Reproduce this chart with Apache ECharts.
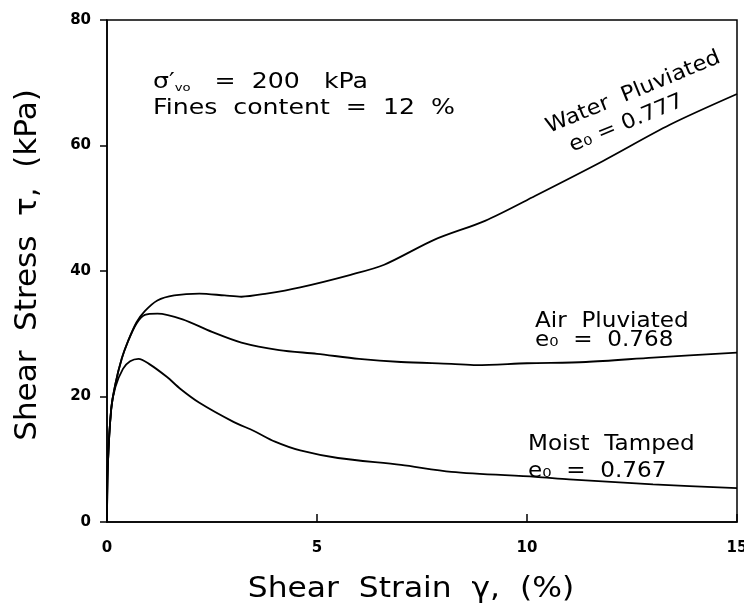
<!DOCTYPE html>
<html>
<head>
<meta charset="utf-8">
<script src="https://cdn.jsdelivr.net/npm/echarts@6/dist/echarts.min.js"></script>
<style>
  html, body { margin: 0; padding: 0; background: #fff; }
  #chart { width: 744px; height: 607px; }
</style>
</head>
<body>
<div id="chart"></div>
<script>
// shear strain (%) / shear stress (kPa)
const waterPluviated = [
  [0, 0], [0.02, 9], [0.1, 18], [0.2, 22], [0.35, 26], [0.5, 28.8], [0.7, 31.8],
  [0.9, 33.6], [1.2, 35.3], [1.6, 36.1], [2.2, 36.4], [2.8, 36.1], [3.2, 35.9],
  [3.8, 36.4], [4.6, 37.4], [5.8, 39.4], [6.6, 41], [7.8, 45], [9, 48],
  [10.2, 52], [11.8, 57.5], [13.4, 63.3], [15, 68.2]
]
const airPluviated = [
  [0, 0], [0.02, 9], [0.1, 18], [0.2, 22], [0.35, 26], [0.5, 28.8], [0.7, 31.6],
  [0.9, 33], [1.2, 33.2], [1.8, 32.3], [2.5, 30.3], [3.2, 28.6], [4.1, 27.4],
  [5, 26.8], [6, 26], [7, 25.5], [8.2, 25.2], [8.8, 25], [10, 25.3],
  [11.4, 25.5], [13, 26.2], [15, 27]
]
const moistTamped = [
  [0, 0], [0.02, 9], [0.1, 18], [0.2, 21.5], [0.38, 24.4], [0.55, 25.6],
  [0.75, 26], [1, 25.2], [1.43, 23.1], [1.75, 21.2], [2.2, 19], [3, 16],
  [3.5, 14.5], [4, 12.8], [4.6, 11.4], [5.5, 10.2], [7, 9.1], [8.2, 8],
  [10.2, 7.2], [11, 6.8], [13, 6], [15, 5.4]
]
const xTicks = [0, 5, 10, 15]
const yTicks = [0, 20, 40, 60, 80]

const font = 'DejaVu Sans'
const chart = echarts.init(document.getElementById('chart'))

const lineSeries = (name, data) => ({
  name: name,
  type: 'line',
  data: data,
  smooth: 0.3,
  showSymbol: false,
  lineStyle: { color: '#000', width: 1.8 },
  silent: true
})

// plain text block drawn on top of the chart
const label = (x, y, text, opts) => Object.assign({
  type: 'text', x: x, y: y,
  style: {
    text: text, fontFamily: font, fontSize: 21, fill: '#000',
    align: 'left', verticalAlign: 'top', lineHeight: (opts && opts.lh) || 24
  }
}, opts && opts.el)

const option = {
  backgroundColor: '#fff',
  animation: false,
  grid: {
    left: 107, right: 7, top: 20, bottom: 85,
    containLabel: false, outerBoundsMode: 'none',
    show: true, borderColor: '#000', borderWidth: 1.5
  },
  xAxis: {
    type: 'value',
    min: xTicks[0], max: xTicks[xTicks.length - 1], interval: 5,
    axisLine: { lineStyle: { color: '#000', width: 1.5 } },
    axisTick: { inside: true, length: 8, lineStyle: { color: '#000', width: 1.5 } },
    axisLabel: { fontFamily: font, fontSize: 15, fontWeight: 'bold', color: '#000', margin: 19 },
    splitLine: { show: false }
  },
  yAxis: {
    type: 'value',
    min: yTicks[0], max: yTicks[yTicks.length - 1], interval: 20,
    axisLine: { show: true, lineStyle: { color: '#000', width: 1.5 } },
    axisTick: { inside: false, length: 7, lineStyle: { color: '#000', width: 1.5 } },
    axisLabel: { fontFamily: font, fontSize: 15, fontWeight: 'bold', color: '#000', margin: 16 },
    splitLine: { show: false }
  },
  series: [
    lineSeries('Water Pluviated', waterPluviated),
    lineSeries('Air Pluviated', airPluviated),
    lineSeries('Moist Tamped', moistTamped)
  ],
  graphic: [
    {
      type: 'text', x: 28, y: 265, rotation: Math.PI / 2,
      style: {
        text: 'Shear  Stress  τ,  (kPa)', fontFamily: font, fontSize: 31,
        fill: '#000', align: 'center', verticalAlign: 'middle'
      }
    },
    {
      type: 'text', x: 411, y: 589, scaleX: 1.08,
      style: {
        text: 'Shear  Strain  γ,  (%)', fontFamily: font, fontSize: 29,
        fill: '#000', align: 'center', verticalAlign: 'middle'
      }
    },
    {
      type: 'text', x: 153, y: 70, scaleX: 1.2,
      style: {
        rich: {
          s: { fontFamily: font, fontSize: 21, fill: '#000' },
          sub: { fontFamily: font, fontSize: 11, fill: '#000', padding: [10, 0, 0, 0] }
        },
        text: '{s|σ′}{sub|vo}{s|   =  200   kPa}\n{s|Fines  content  =  12  %}',
        fill: '#000', lineHeight: 26, align: 'left', verticalAlign: 'top'
      }
    },
    label(542, 116, 'Water  Pluviated\n  e₀ = 0.777', { lh: 26, el: { rotation: 0.39, scaleX: 1.08 } }),
    label(535, 312, 'Air  Pluviated\ne₀  =  0.768', { lh: 19, el: { scaleX: 1.1 } }),
    label(528, 431, 'Moist  Tamped\ne₀  =  0.767', { lh: 27, el: { scaleX: 1.1 } })
  ]
}

chart.setOption(option)
</script>
</body>
</html>
